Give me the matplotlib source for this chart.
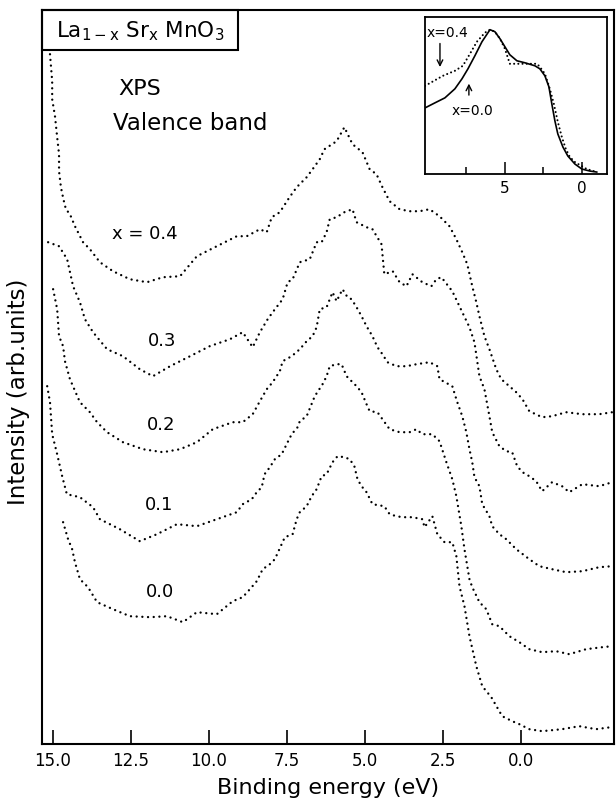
import matplotlib.pyplot as plt
from matplotlib.patches import Rectangle

plt.rcParams["font.family"] = "DejaVu Sans"
plt.rcParams["mathtext.default"] = "regular"

# XPS valence band of La(1-x)Sr(x)MnO3
# binding energy (eV) / intensity (arb. units, curves stacked)
e_04 = [15.09, 15.02, 15.02, 14.93, 14.86, 14.80, 14.80, 14.74, 14.66, 14.58, 14.45, 14.29, 14.03, 13.81,
        13.49, 13.07, 12.53, 11.98, 11.47, 10.92, 10.38, 9.74, 9.10, 8.78, 8.36, 8.14, 7.98, 7.72, 7.41,
        7.18, 6.86, 6.67, 6.44, 6.29, 5.90, 5.65, 5.39, 5.07, 4.84, 4.62, 4.43, 4.20, 3.88, 3.56, 3.24,
        2.92, 2.60, 2.28, 2.06, 1.87, 1.71, 1.55, 1.42, 1.32, 1.16, 1.00, 0.78, 0.62, 0.36, 0.14, -0.06,
        -0.28, -0.69, -1.01, -1.46, -1.98, -2.52, -2.94]
i_04 = [6.90, 6.63, 6.45, 6.28, 6.07, 5.90, 5.73, 5.57, 5.45, 5.35, 5.30, 5.18, 5.02, 4.95,
        4.82, 4.73, 4.65, 4.62, 4.67, 4.68, 4.88, 4.98, 5.08, 5.08, 5.15, 5.12, 5.27, 5.32, 5.47,
        5.57, 5.67, 5.75, 5.85, 5.95, 6.03, 6.17, 6.00, 5.92, 5.75, 5.70, 5.57, 5.43, 5.35, 5.33, 5.33,
        5.35, 5.28, 5.18, 5.05, 4.92, 4.80, 4.58, 4.42, 4.28, 4.08, 3.95, 3.75, 3.65, 3.58, 3.52, 3.45,
        3.33, 3.27, 3.28, 3.32, 3.30, 3.30, 3.32]

e_03 = [15.15, 14.80, 14.54, 14.35, 14.13, 13.97, 13.71, 13.26, 12.75, 12.21, 11.79, 11.24, 10.60,
        9.97, 9.32, 8.91, 8.59, 8.36, 8.11, 7.95, 7.63, 7.47, 7.31, 7.08, 6.76, 6.54, 6.38, 6.22, 6.12,
        5.90, 5.65, 5.39, 5.26, 4.94, 4.75, 4.46, 4.37, 4.10, 3.88, 3.66, 3.47, 3.15, 2.86, 2.70, 2.54,
        2.19, 1.87, 1.64, 1.48, 1.32, 1.16, 1.00, 0.91, 0.68, 0.46, 0.27, 0.11, -0.06, -0.28, -0.50,
        -0.69, -1.01, -1.33, -1.56, -1.98, -2.52, -2.94]
i_03 = [5.02, 4.98, 4.85, 4.58, 4.42, 4.25, 4.12, 3.95, 3.88, 3.75, 3.68, 3.78, 3.88,
        3.98, 4.05, 4.12, 3.97, 4.12, 4.25, 4.32, 4.45, 4.62, 4.65, 4.82, 4.85, 5.02, 5.02, 5.12, 5.25,
        5.27, 5.32, 5.35, 5.22, 5.17, 5.15, 5.00, 4.70, 4.73, 4.62, 4.58, 4.70, 4.62, 4.58, 4.65, 4.67,
        4.53, 4.32, 4.17, 4.02, 3.68, 3.55, 3.28, 3.12, 2.98, 2.93, 2.92, 2.78, 2.72, 2.68, 2.63,
        2.53, 2.62, 2.58, 2.52, 2.60, 2.58, 2.62]

e_02 = [14.99, 14.86, 14.80, 14.67, 14.61, 14.45, 14.13, 13.81, 13.58, 13.26, 12.75, 12.11, 11.47, 10.92,
        10.38, 9.87, 9.23, 8.91, 8.59, 8.36, 8.14, 7.95, 7.72, 7.63, 7.34, 7.08, 6.86, 6.67, 6.54, 6.44,
        6.22, 6.03, 5.90, 5.71, 5.55, 5.42, 5.26, 5.10, 4.94, 4.75, 4.59, 4.43, 4.27, 3.98, 3.66, 3.34,
        2.92, 2.67, 2.60, 2.19, 2.03, 1.87, 1.74, 1.64, 1.55, 1.48, 1.32, 1.23, 1.00, 0.91, 0.68, 0.46,
        0.14, -0.28, -0.60, -1.01, -1.46, -1.98, -2.52, -2.94]
i_02 = [4.55, 4.35, 4.08, 3.98, 3.83, 3.65, 3.42, 3.32, 3.22, 3.12, 3.02, 2.95, 2.92, 2.95,
        3.02, 3.15, 3.22, 3.22, 3.30, 3.43, 3.55, 3.62, 3.73, 3.83, 3.88, 3.95, 4.03, 4.08, 4.17, 4.35,
        4.37, 4.52, 4.43, 4.55, 4.47, 4.45, 4.37, 4.28, 4.18, 4.08, 3.97, 3.90, 3.82, 3.78, 3.78, 3.80,
        3.82, 3.78, 3.65, 3.58, 3.42, 3.28, 3.12, 2.95, 2.82, 2.67, 2.58, 2.40, 2.28, 2.18, 2.10, 2.05,
        1.95, 1.85, 1.78, 1.75, 1.72, 1.73, 1.77, 1.78]

e_01 = [15.18, 15.09, 15.02, 14.86, 14.70, 14.55, 14.13, 13.71, 13.49, 12.85, 12.21, 11.66, 11.02,
        10.38, 9.74, 9.10, 8.91, 8.62, 8.46, 8.30, 8.21, 8.04, 7.88, 7.66, 7.47, 7.34, 7.15, 7.08, 6.86,
        6.60, 6.35, 6.22, 6.12, 5.90, 5.74, 5.58, 5.42, 5.26, 5.10, 4.94, 4.84, 4.59, 4.43, 4.20, 3.88,
        3.56, 3.34, 3.15, 2.83, 2.60, 2.38, 2.19, 2.06, 1.90, 1.80, 1.64, 1.55, 1.32, 1.10, 0.91, 0.68,
        0.36, 0.04, -0.28, -0.69, -1.14, -1.56, -2.10, -2.62, -2.94]
i_01 = [3.58, 3.42, 3.10, 2.90, 2.68, 2.50, 2.47, 2.37, 2.25, 2.15, 2.03, 2.10, 2.20,
        2.18, 2.25, 2.32, 2.40, 2.45, 2.52, 2.57, 2.70, 2.77, 2.85, 2.90, 3.02, 3.10, 3.17, 3.23, 3.28,
        3.48, 3.60, 3.68, 3.78, 3.80, 3.80, 3.68, 3.63, 3.58, 3.52, 3.40, 3.33, 3.32, 3.25, 3.15, 3.12,
        3.12, 3.15, 3.10, 3.10, 3.03, 2.82, 2.65, 2.48, 2.18, 1.95, 1.65, 1.57, 1.42, 1.35, 1.20, 1.18,
        1.08, 1.02, 0.95, 0.92, 0.93, 0.90, 0.95, 0.97, 0.98]

e_00 = [14.67, 14.51, 14.38, 14.29, 14.13, 13.87, 13.58, 13.07, 12.53, 11.88, 11.34, 10.83, 10.38, 9.74,
        9.23, 8.91, 8.68, 8.46, 8.27, 8.04, 7.88, 7.56, 7.31, 7.18, 7.08, 6.86, 6.70, 6.54, 6.38, 6.22,
        6.03, 5.87, 5.65, 5.48, 5.33, 5.23, 5.10, 4.94, 4.75, 4.37, 4.20, 3.98, 3.79, 3.47, 3.15, 3.08,
        2.83, 2.67, 2.44, 2.19, 2.06, 1.96, 1.80, 1.64, 1.42, 1.23, 0.94, 0.59, 0.27, 0.04, -0.28,
        -0.69, -1.33, -1.88, -2.42, -2.90]
i_00 = [2.22, 2.05, 1.95, 1.82, 1.65, 1.57, 1.42, 1.35, 1.28, 1.27, 1.28, 1.22, 1.32, 1.30,
        1.43, 1.47, 1.55, 1.63, 1.75, 1.80, 1.85, 2.07, 2.10, 2.25, 2.32, 2.38, 2.48, 2.55, 2.68, 2.70,
        2.82, 2.88, 2.87, 2.85, 2.78, 2.65, 2.58, 2.52, 2.40, 2.38, 2.30, 2.28, 2.27, 2.27, 2.25, 2.17,
        2.28, 2.10, 2.02, 2.02, 1.88, 1.58, 1.38, 1.08, 0.78, 0.58, 0.47, 0.28, 0.23, 0.20, 0.15,
        0.13, 0.15, 0.18, 0.15, 0.17]

# inset: normalised spectra, x = 0.4 (dotted) and x = 0.0 (solid)
inset_e_04 = [10.19, 9.03, 8.25, 7.73, 7.27, 6.82, 6.30, 5.97, 5.65, 5.32, 5.00, 4.68, 4.35, 3.70, 2.92,
              2.73, 2.40, 2.08, 1.82, 1.56, 1.30, 1.04, 0.78, 0.45, 0.13, -0.32, -0.97]
inset_i_04 = [0.88, 0.98, 1.03, 1.08, 1.20, 1.32, 1.41, 1.44, 1.42, 1.35, 1.25, 1.10, 1.10, 1.10, 1.10,
              1.07, 1.00, 0.85, 0.70, 0.52, 0.37, 0.25, 0.17, 0.12, 0.09, 0.05, 0.02]
inset_e_00 = [10.19, 9.55, 8.90, 8.25, 7.79, 7.40, 6.95, 6.49, 5.97, 5.65, 5.32, 5.00, 4.68, 4.22, 3.70,
              3.05, 2.73, 2.40, 2.14, 1.95, 1.75, 1.56, 1.23, 0.91, 0.45, 0.00, -0.52, -0.97]
inset_i_00 = [0.66, 0.71, 0.76, 0.85, 0.95, 1.05, 1.18, 1.32, 1.44, 1.42, 1.35, 1.27, 1.19, 1.13, 1.11,
              1.08, 1.05, 0.98, 0.87, 0.70, 0.53, 0.40, 0.27, 0.18, 0.10, 0.05, 0.03, 0.02]

x_ticks = [15.0, 12.5, 10.0, 7.5, 5.0, 2.5, 0.0]
x_tick_labels = ["15.0", "12.5", "10.0", "7.5", "5.0", "2.5", "0.0"]

DOTS = (0, (0.01, 2.4))


def main() -> None:
    fig = plt.figure(figsize=(6.16, 8.03), dpi=100)
    ax = fig.add_axes([0.068, 0.072, 0.929, 0.914])

    for e, i in [(e_04, i_04), (e_03, i_03), (e_02, i_02), (e_01, i_01), (e_00, i_00)]:
        ax.plot(e, i, color="black", lw=1.7, linestyle=DOTS, dash_capstyle="round")

    # curve labels
    ax.text(13.10, 5.11, "x = 0.4", fontsize=13, va="center", ha="left")
    for lab, xe, yi in [("0.3", 11.50, 4.04), ("0.2", 11.53, 3.20), ("0.1", 11.60, 2.40), ("0.0", 11.56, 1.53)]:
        ax.text(xe, yi, lab, fontsize=13, va="center", ha="center")
    ax.text(12.91, 6.56, "XPS", fontsize=16, va="center", ha="left")
    ax.text(13.07, 6.22, "Valence band", fontsize=16.5, va="center", ha="left")

    ax.set_xlim(15.35, -3.0)
    ax.set_ylim(0, 7.34)
    ax.set_xticks(x_ticks)
    ax.set_xticklabels(x_tick_labels)
    ax.set_yticks([])
    ax.tick_params(axis="x", direction="in", length=10, width=1.2, labelsize=12, pad=5)
    for sp in ax.spines.values():
        sp.set_linewidth(1.5)
    ax.set_xlabel("Binding energy (eV)", fontsize=16, labelpad=6)
    ax.set_ylabel("Intensity (arb.units)", fontsize=16.5)
    ax.yaxis.set_label_coords(-0.021, 0.482)

    # compound label box in the top left corner
    ax.add_patch(Rectangle((0, 1 - 0.0545), 0.343, 0.0545, transform=ax.transAxes,
                           fill=False, lw=1.5, clip_on=False))
    ax.text(0.1715, 1 - 0.0272, r"La$_{1-x}$ Sr$_x$ MnO$_3$", transform=ax.transAxes,
            fontsize=15.5, ha="center", va="center")

    # inset comparing x = 0.4 and x = 0.0
    ins = fig.add_axes([0.690, 0.782, 0.295, 0.196])
    ins.plot(inset_e_04, inset_i_04, color="black", lw=1.5, linestyle=(0, (0.01, 2.0)),
             dash_capstyle="round")
    ins.plot(inset_e_00, inset_i_00, color="black", lw=1.2)
    ins.set_xlim(10.19, -1.62)
    ins.set_ylim(0, 1.57)
    ins.set_yticks([])
    ins.set_xticks([5, 0])
    ins.set_xticklabels(["5", "0"])
    ins.set_xticks([7.5, 2.5], minor=True)
    ins.tick_params(axis="x", which="major", direction="in", length=9, width=1.1, labelsize=11, pad=4)
    ins.tick_params(axis="x", which="minor", direction="in", length=5, width=1.1)
    for sp in ins.spines.values():
        sp.set_linewidth(1.3)
    ins.text(8.7, 1.42, "x=0.4", fontsize=10, ha="center", va="center")
    ins.annotate("", xy=(9.22, 1.04), xytext=(9.22, 1.33),
                 arrowprops=dict(arrowstyle="->", lw=1.0, color="black"))
    ins.annotate("", xy=(7.34, 0.93), xytext=(7.34, 0.76),
                 arrowprops=dict(arrowstyle="->", lw=1.0, color="black"))
    ins.text(7.14, 0.64, "x=0.0", fontsize=10, ha="center", va="center")

    fig.savefig("out.png", dpi=100)


if __name__ == "__main__":
    main()
